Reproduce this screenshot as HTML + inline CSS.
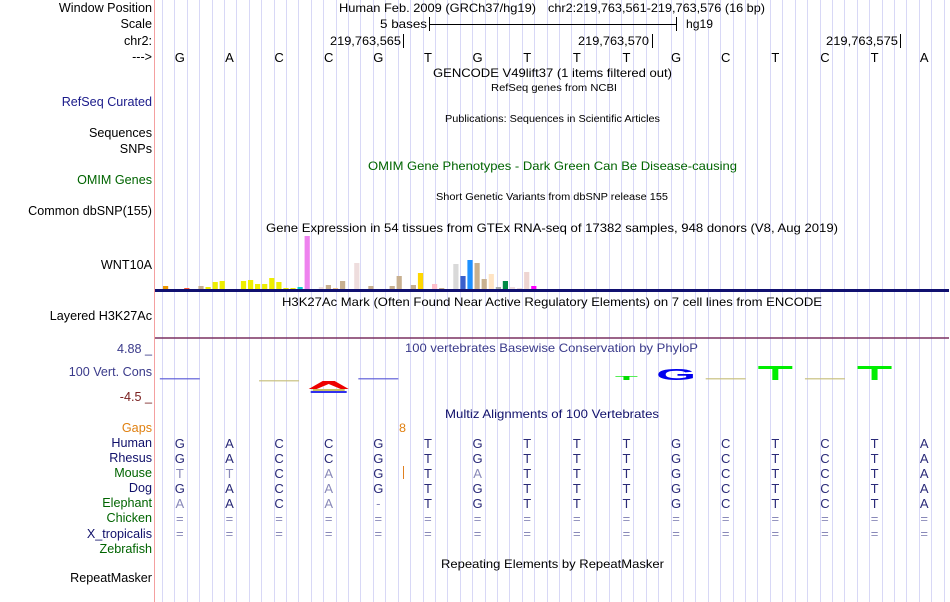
<!DOCTYPE html>
<html><head><meta charset="utf-8"><style>
body{margin:0;background:#fff}
svg{display:block;font-family:"Liberation Sans",sans-serif}
</style></head><body>
<svg id="c" width="950" height="602" viewBox="0 0 950 602" xmlns="http://www.w3.org/2000/svg">
<g id="grid"></g>
<line x1="154.5" y1="0" x2="154.5" y2="602" stroke="#f4a0a0"/>
<g id="labels" font-size="12.6" text-anchor="end"></g>
<g id="titles" font-size="12"></g>
<g id="bases" font-size="13" text-anchor="middle"></g>
<g id="gtex"></g>
<line x1="155" y1="290.5" x2="949" y2="290.5" stroke="#101070" stroke-width="3"/>
<line x1="155" y1="338" x2="949" y2="338" stroke="#7a3060" stroke-width="1.5"/>
<g id="cons"></g>
<g id="aln" font-size="13" text-anchor="middle"></g>
<g stroke="#000">
<line x1="429.5" y1="17" x2="429.5" y2="31"/><line x1="676.5" y1="17" x2="676.5" y2="31"/><line x1="429" y1="24.5" x2="676" y2="24.5"/>
<line x1="403.5" y1="34" x2="403.5" y2="48"/><line x1="652.5" y1="34" x2="652.5" y2="48"/><line x1="900.5" y1="34" x2="900.5" y2="48"/>
</g>
<line x1="403.5" y1="466" x2="403.5" y2="479" stroke="#e08020"/>
</svg>
<script>
const NS='http://www.w3.org/2000/svg';
function mk(tag,attrs,parent,txt){const e=document.createElementNS(NS,tag);for(const k in attrs)e.setAttribute(k,attrs[k]);if(txt!==undefined)e.textContent=txt;parent.appendChild(e);return e;}
const X0=155,BW=49.625;
const bx=i=>X0+BW*(i+0.5);
const grid=document.getElementById('grid');
for(let i=0;i<64;i++){const x=Math.round(X0+7+i*12.406)+0.5;mk('line',{x1:x,y1:0,x2:x,y2:602,stroke:'#d8d8f6'},grid);}
const labelText=['Window Position','Scale','chr2:','--->','RefSeq Curated','Sequences','SNPs','OMIM Genes','Common dbSNP(155)','WNT10A','Layered H3K27Ac','4.88 _','100 Vert. Cons','-4.5 _','Gaps','Human','Rhesus','Mouse','Dog','Elephant','Chicken','X_tropicalis','Zebrafish','RepeatMasker'];
const labelY=[12,28,45,61,106,137,153,184,215,269,320,353,376,401,432,447,462,477,492,507,522,538,553,582];
const labelCol=['#000','#000','#000','#000','#1a1a8a','#000','#000','#006400','#000','#000','#000','#3a3a8a','#3a3a8a','#7a2020','#e08010','#10106a','#10106a','#006400','#10106a','#006400','#006400','#10106a','#006400','#000'];
const labels=document.getElementById('labels');
labelText.forEach((t,i)=>{const e=mk('text',{x:152,y:labelY[i],fill:labelCol[i]},labels,t);

});
const titles=document.getElementById('titles');
const T=[
['Human Feb. 2009 (GRCh37/hg19)',339,12,197,'#000',12],
['chr2:219,763,561-219,763,576 (16 bp)',548,12,217,'#000',12],
['5 bases',380,28,47,'#000',12],['hg19',686,28,27,'#000',12],
['219,763,565',330,45,71,'#000',12],['219,763,570',578,45,71,'#000',12],['219,763,575',826,45,72,'#000',12],
['GENCODE V49lift37 (1 items filtered out)',433,77,239,'#000',12],
['RefSeq genes from NCBI',491,91,126,'#000',10],
['Publications: Sequences in Scientific Articles',445,122,215,'#000',10],
['OMIM Gene Phenotypes - Dark Green Can Be Disease-causing',368,170,369,'#006400',12],
['Short Genetic Variants from dbSNP release 155',436,200,232,'#000',10],
['Gene Expression in 54 tissues from GTEx RNA-seq of 17382 samples, 948 donors (V8, Aug 2019)',266,232,572,'#000',12],
['H3K27Ac Mark (Often Found Near Active Regulatory Elements) on 7 cell lines from ENCODE',282,306,540,'#000',12],
['100 vertebrates Basewise Conservation by PhyloP',405,352,293,'#3a3a8a',12],
['Multiz Alignments of 100 Vertebrates',445,418,214,'#10106a',12],
['8',399,432,7,'#e08010',12],
['Repeating Elements by RepeatMasker',441,568,223,'#000',12]];
T.forEach(t=>{const e=mk('text',{x:t[1],y:t[2],fill:t[4],'font-size':t[5],textLength:t[3],lengthAdjust:'spacingAndGlyphs'},titles,t[0]);

});
const seq=['G','A','C','C','G','T','G','T','T','T','G','C','T','C','T','A'];
const bases=document.getElementById('bases');
seq.forEach((b,i)=>{const e=mk('text',{x:bx(i),y:62},bases,b);

});
const gtexValues=[3,0,0,1,0,3,2,7,8,0,0,8,9,5,5,11,7,1,1,2,53,0,2,4,1,8,0,26,0,3,0,0,3,13,0,4,16,0,5,1,0,25,13,29,26,10,15,2,8,2,1,17,3,0];
const gtexColors=['#ee9900','#ffaa88','#ffaa88','#ff5533','#ff5533','#c8b090','#eeee00','#eeee00','#eeee00','#eeee00','#eeee00','#eeee00','#eeee00','#eeee00','#eeee00','#eeee00','#eeee00','#eeee00','#eeee00','#00ccd0','#ee82ee','#eeddee','#eedddd','#c8b090','#eec591','#c8b090','#8b7355','#eedddd','#eedddd','#c8b090','#c8b090','#c8b090','#c8b090','#c8b090','#99cc33','#c8b090','#ffd700','#ffc0cb','#ffc0cb','#c8b090','#b4eeb4','#d9d9d9','#3a5fcd','#1e90ff','#c8b090','#c8b090','#ffe4c4','#aaaaaa','#008b45','#eedddd','#eedddd','#eed5d2','#ff00ff','#c8b090'];
const gtex=document.getElementById('gtex');
const gy=v=>289-v;
gtexValues.forEach((v,i)=>{if(v<=0)return;const x=163+i*7.08;const r=mk('rect',{x:x.toFixed(1),y:gy(v),width:5.2,height:v,fill:gtexColors[i]},gtex);

});
const cons=document.getElementById('cons');
const consDash=[0,2,4,11,13];const consDashCol=['#6060d8','#c8c080','#6060d8','#c8c080','#c8c080'];
consDash.forEach((i,k)=>{const r=mk('rect',{x:bx(i)-20,y:i===0||i===4?378:i===2?380:378,width:40,height:1.5,fill:consDashCol[k],opacity:0.8},cons);

});
mk('polygon',{points:`${bx(3)-20},389 ${bx(3)-6},381 ${bx(3)+6},381 ${bx(3)+20},389 ${bx(3)+12},389 ${bx(3)},384 ${bx(3)-12},389`,fill:'#ee0000'},cons);
mk('rect',{x:bx(3)-16,y:389,width:32,height:2,fill:'#c8c060'},cons);
mk('rect',{x:bx(3)-18,y:391,width:36,height:2,fill:'#3030ee'},cons);
mk('rect',{x:bx(9)-11,y:376,width:22,height:1,fill:'#55ee55'},cons);
mk('rect',{x:bx(9)-3,y:376,width:6,height:4,fill:'#00dd00'},cons);
mk('text',{x:bx(10),y:380,'font-size':16,'font-weight':'bold',fill:'#0000ee','text-anchor':'middle',textLength:40,lengthAdjust:'spacingAndGlyphs'},cons,'G');
[12,14].forEach(i=>{mk('rect',{x:bx(i)-17,y:366,width:34,height:3,fill:'#00ee00'},cons);mk('rect',{x:bx(i)-3,y:366,width:6,height:14,fill:'#00ee00'},cons);});
const species=[['G','A','C','C','G','T','G','T','T','T','G','C','T','C','T','A'],
['G','A','C','C','G','T','G','T','T','T','G','C','T','C','T','A'],
['T','T','C','A','G','T','A','T','T','T','G','C','T','C','T','A'],
['G','A','C','A','G','T','G','T','T','T','G','C','T','C','T','A'],
['A','A','C','A','-','T','G','T','T','T','G','C','T','C','T','A'],
Array(16).fill('='),Array(16).fill('=')];
const grayMask=[[],[],[0,1,3,6],[3],[0,3,4],[],[]];
const aln=document.getElementById('aln');
species.forEach((row,r)=>{row.forEach((b,i)=>{const gray=grayMask[r].includes(i)||b==='=';const e=mk('text',{x:bx(i),y:448+r*15,fill:gray?'#8888b8':'#2a2a78'},aln,b);

});});
</script>
</body></html>
